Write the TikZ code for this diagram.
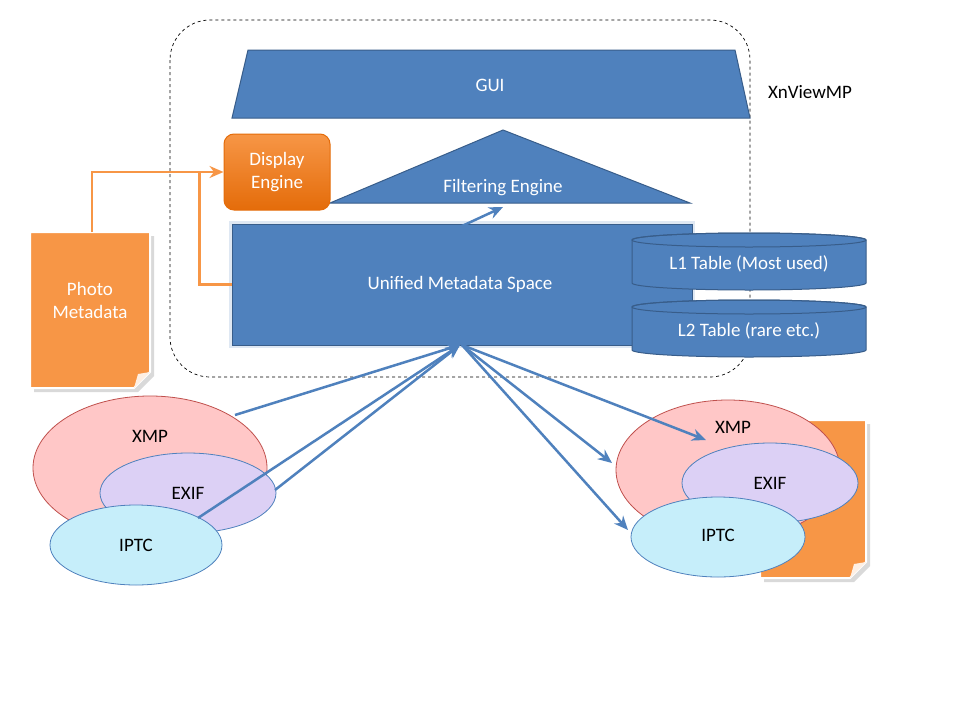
\documentclass[tikz,border=0pt]{standalone}
\usepackage{fontspec}
\setmainfont{Carlito}
\usetikzlibrary{shapes.geometric,arrows.meta,calc}
\definecolor{bfill}{HTML}{4F81BD}
\definecolor{bline}{HTML}{385D8A}
\definecolor{orng}{HTML}{F79646}
\definecolor{orngd}{HTML}{E46C0A}
\definecolor{pinkf}{HTML}{FFC7C7}
\definecolor{pinkl}{HTML}{C0504D}
\definecolor{lav}{HTML}{DCD0F5}
\definecolor{cyanf}{HTML}{C6EEFA}
\begin{document}
\begin{tikzpicture}[x=1pt,y=-1pt,
  blk/.style={fill=bfill,draw=bline,line width=1pt},
  wt/.style={text=white,font=\fontsize{19}{23}\selectfont},
  bt/.style={text=black,font=\fontsize{19}{23}\selectfont},
  barr/.style={draw=bfill,line width=2.5pt,-{Stealth[length=14pt,width=12pt]}},
  oarr/.style={draw=orng,line width=2.5pt,-{Stealth[length=14pt,width=12pt]}},
  ell/.style={ellipse,draw,line width=0.8pt}]
\useasboundingbox (0,0) rectangle (960,720);
\fill[white] (0,0) rectangle (960,720);
% frame
\draw[dashed,line width=0.7pt,rounded corners=40pt] (170,20) rectangle (750,377);
\node[bt] (xn) at (810,92) {XnViewMP};
% GUI
\draw[blk] (248,50) -- (735,50) -- (750,118) -- (232,118) -- cycle;
\node[wt] (gui) at (490,85) {GUI};
% filtering
\draw[blk] (503,130) -- (690,203) -- (330,203) -- cycle;
\node[wt] (filt) at (503,188) {Filtering Engine};
% display engine
\node[top color=orng,bottom color=orngd,draw=orngd,line width=1pt,rounded corners=10pt,minimum width=106pt,minimum height=76pt,align=center,wt] (disp) at (277,172) {Display\\Engine};
% unified
\draw[bfill!30,line width=6pt,opacity=0.6] (232,224) rectangle (692,345);
\node[blk,minimum width=460pt,minimum height=121pt] (uni) at (462,284.5) {};
\node[wt] (unit) at (460,284) {Unified Metadata Space};
% cylinders
\foreach \n/\y/\t in {l1/233/L1 Table (Most used),l2/300/L2 Table (rare etc.)}{
  \draw[blk] (632,\y+7) -- (632,\y+50) arc[start angle=180,end angle=0,x radius=117,y radius=7] -- (866,\y+7) arc[start angle=0,end angle=-180,x radius=117,y radius=7] -- cycle;
  \draw[bline,line width=1pt] (749,\y+7) ellipse[x radius=117,y radius=7];
  \node[wt] (\n) at (749,\y+31) {\t};
}
% photo metadata
\fill[black,opacity=0.15] (34,236) -- (154,236) -- (154,376) -- (138,392) -- (34,392) -- cycle;
\draw[fill=orng,draw=white,line width=2pt] (30,232) -- (150,232) -- (150,372) -- (134,388) -- (30,388) -- cycle;
\fill[white!85!orng] (150,372) -- (134,388) -- (138,374) -- cycle;
\node[align=center,wt] (photo) at (90,300) {Photo\\Metadata};
\draw[oarr] (92,232) |- (disp.west);
\draw[orng,line width=2.5pt] (uni.west) -- ++(-32,0) -- ++(0,-114);
% right page
\fill[black,opacity=0.15] (764,424) -- (870,424) -- (870,566) -- (854,582) -- (764,582) -- cycle;
\draw[fill=orng,draw=white,line width=2pt] (760,420) -- (866,420) -- (866,562) -- (850,578) -- (760,578) -- cycle;
\fill[white!85!orng] (866,562) -- (850,578) -- (854,564) -- cycle;
% left ellipses
\node[ell,draw=pinkl,fill=pinkf,minimum width=234pt,minimum height=144pt] (xl) at (150,468) {};
\node[bt] at (150,436) {XMP};
\node[ell,draw=bfill,fill=lav,minimum width=176pt,minimum height=80pt] (el) at (188,493) {};
\node[bt] at (188,493) {EXIF};
\node[ell,draw=bfill,fill=cyanf,minimum width=172pt,minimum height=80pt] (il) at (136,545) {};
\node[bt] at (136,545) {IPTC};
% right ellipses
\node[ell,draw=pinkl,fill=pinkf,minimum width=224pt,minimum height=140pt] (xr) at (728,470) {};
\node[bt] at (733,427) {XMP};
\node[ell,draw=bfill,fill=lav,minimum width=176pt,minimum height=80pt] (er) at (770,483) {};
\node[bt] at (770,483) {EXIF};
\node[ell,draw=bfill,fill=cyanf,minimum width=174pt,minimum height=80pt] (ir) at (718,537) {};
\node[bt] at (718,535) {IPTC};
% blue arrows
\coordinate (hub) at (460,345);
\coordinate (hr) at (462,345);
\draw[barr] (235,415) -- (hub);
\draw[barr] (275,490) -- (hub);
\draw[barr] (198,518) -- (hub);
\draw[barr] (hr) -- (612,463);
\draw[barr] (hr) -- (628,530);
\draw[barr] (hr) -- (706,440);
\coordinate (fa) at (462,226);
\coordinate (fb) at (503,207);
\draw[barr] (fa) -- (fb);
\end{tikzpicture}
\end{document}
